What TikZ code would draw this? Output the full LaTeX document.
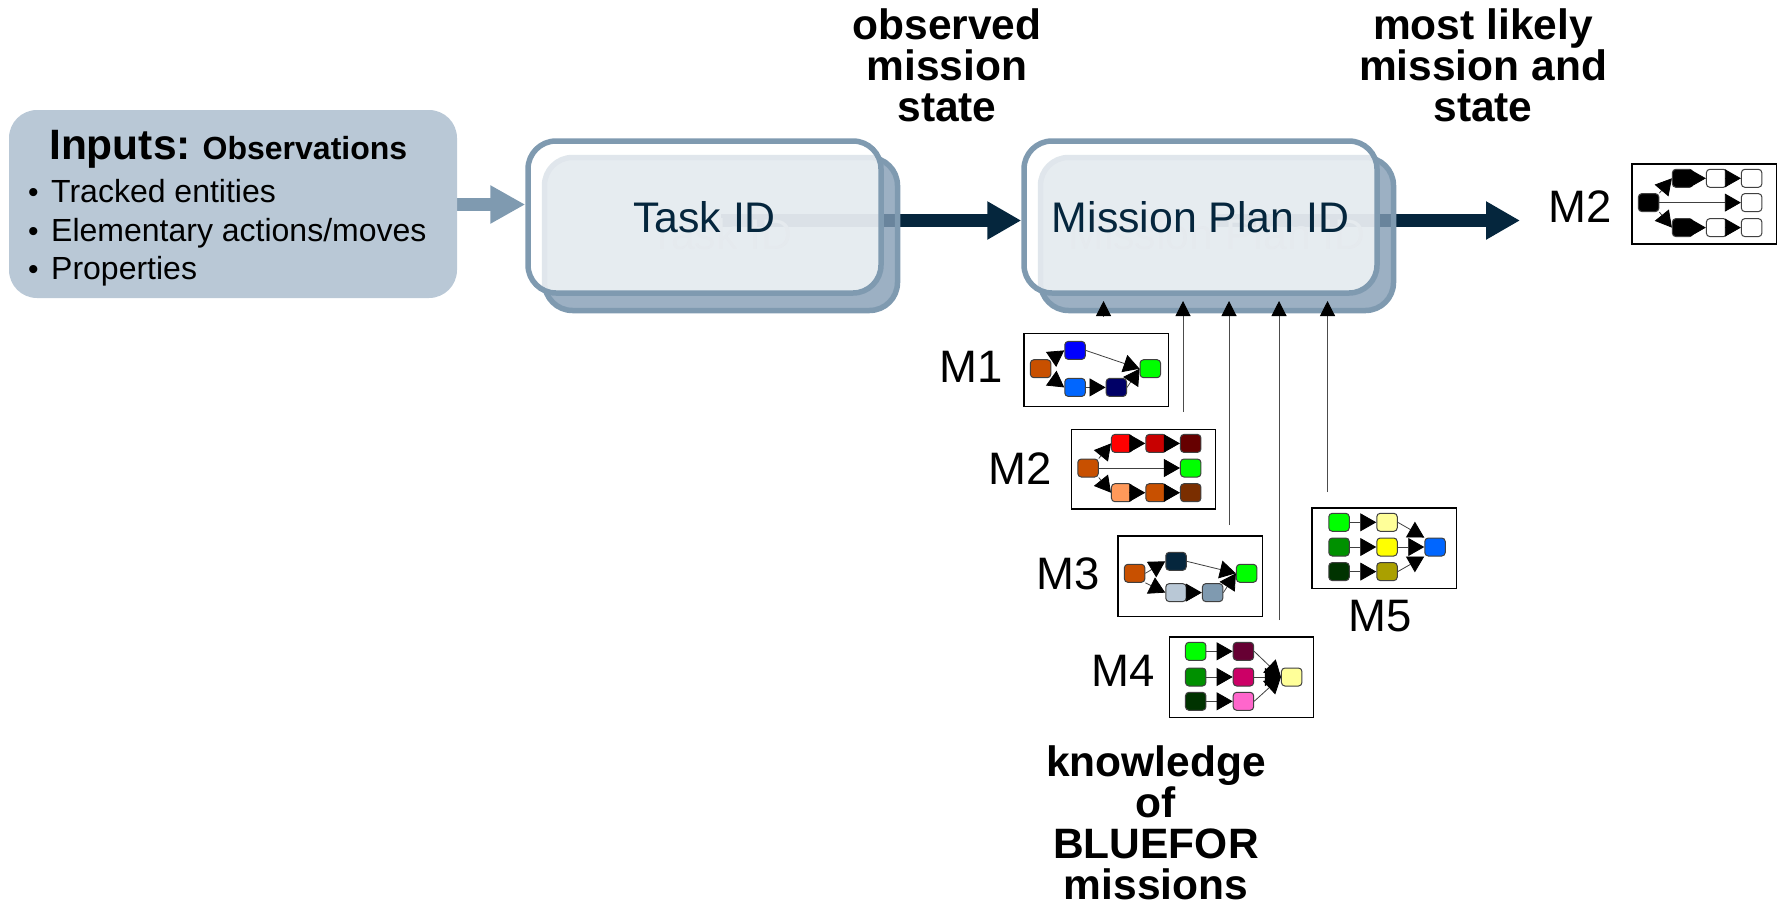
\documentclass[tikz,border=0pt]{standalone}
\usepackage{fontspec}
\setmainfont{Liberation Sans}
\usetikzlibrary{arrows.meta,backgrounds}
\definecolor{dk}{HTML}{05263D}
\definecolor{st}{HTML}{7F9AB0}
\tikzset{
  inbox/.style={rectangle,rounded corners=28pt,fill=B9,minimum width=448pt,minimum height=188pt,inner sep=0pt},
  frontbox/.style={rectangle,rounded corners=28pt,draw=st,line width=5.5pt,fill=white,fill opacity=.76,text opacity=1,text=dk,minimum width=353pt,minimum height=152pt,font=\fontsize{42.8}{44}\selectfont},
  backbox/.style={rectangle,rounded corners=28pt,draw=st,line width=5.5pt,fill=BK,fill opacity=.8,text opacity=1,minimum width=353pt,minimum height=153pt,text=SH,font=\fontsize{42.8}{44}\selectfont},
  head/.style={align=center,font=\fontsize{42.5}{41}\bfseries\selectfont,inner sep=0pt},
  mlabel/.style={font=\fontsize{45.5}{47}\selectfont,inner sep=0pt},
  thumb/.style={rectangle,draw=black,line width=1.3pt,fill=white,anchor=north west,inner sep=0pt,minimum width=144.4pt},
  nd/.style={rectangle,rounded corners=3.5pt,draw=black!75,line width=1pt,minimum width=20.5pt,minimum height=18pt,inner sep=0pt},
  fl/.style={draw=black!75,line width=.8pt,-{Triangle[length=16pt,width=18pt,color=black]}},
  up/.style={draw=black!70,line width=1pt,-{Triangle[length=15pt,width=15pt,color=black]}},
  fatdark/.style={draw=dk,line width=13pt,-{Triangle[length=34pt,width=36pt,color=dk]}},
  fatst/.style={draw=st,line width=13pt,-{Triangle[length=35pt,width=36pt,color=st]}},
}
\definecolor{B9}{HTML}{B9C8D6}
\definecolor{BK}{HTML}{839CB4}
\definecolor{SH}{HTML}{93A8BA}
\newcommand{\bulletmark}{\makebox[25pt][l]{\hspace{2pt}\fontsize{30}{30}\selectfont •}}
\begin{document}
\begin{tikzpicture}[x=1pt,y=-1pt]
\useasboundingbox (0,0) rectangle (1782,903);
% inputs
\node[inbox] (inputs) at (233,204) {};
\node[anchor=north west,inner sep=0pt,align=left,font=\fontsize{32}{38.6}\selectfont] (inputstext) at (26,130.5)
  {\hspace*{23pt}{\fontsize{42.5}{42}\bfseries\selectfont Inputs:} {\fontsize{32}{38.6}\bfseries\selectfont Observations}\\[4pt]
   \bulletmark Tracked entities\\
   \bulletmark Elementary actions/moves\\
   \bulletmark Properties};
% ID boxes
\node[backbox] (taskback) at (721,234) {Task ID};
\node[frontbox] (task) at (704.5,217) {Task ID};
\node[backbox] (missionback) at (1217,234) {Mission Plan ID};
\node[frontbox] (mission) at (1200.5,217) {Mission Plan ID};
\coordinate (a0) at (457,204.5);
\coordinate (a1) at (721,220.5);
\coordinate (a2) at (1217,220.5);
\coordinate (a3) at (1520,220.5);
\begin{scope}[on background layer]
\draw[fatst] (a0) -- (task.west |- a0);
\draw[fatdark] (a1) -- (mission.west |- a1);
\draw[fatdark] (a2) -- (a3);
\end{scope}
% headings
\node[head] (h1) at (947,65) {observed\\mission\\state};
\node[head] (h2) at (1483,65) {most likely\\mission and\\state};
\node[head] (h3) at (1156,823) {knowledge\\of\\BLUEFOR\\missions};
% labels
\node[mlabel] (lm1) at (971,367) {M1};
\node[mlabel] (lm2) at (1020.5,469) {M2};
\node[mlabel] (lm3) at (1068.5,574) {M3};
\node[mlabel] (lm4) at (1123,671) {M4};
\node[mlabel] (lm5) at (1380,616) {M5};
\node[mlabel] (lm6) at (1580,207) {M2};
% M1
\begin{scope}[shift={(1023.3,332.7)}]
\node[thumb,minimum height=73.3pt] (m1) at (0,0) {};
\node[nd,fill={rgb,255:red,200;green,80;blue,0}] (m1a) at (17.3,36) {};
\node[nd,fill={rgb,255:red,0;green,0;blue,255}] (m1b) at (51.7,17.7) {};
\node[nd,fill={rgb,255:red,0;green,102;blue,255}] (m1c) at (51.7,54.7) {};
\node[nd,fill={rgb,255:red,0;green,0;blue,102}] (m1d) at (93,54.7) {};
\node[nd,fill={rgb,255:red,0;green,255;blue,0}] (m1e) at (127,36) {};
\draw[fl] (m1a.north east) -- (m1b.west);
\draw[fl] (m1a.south east) -- (m1c.west);
\draw[fl] (m1c) -- (m1d);
\draw[fl] (m1b.east) -- (m1e.west);
\draw[fl] (m1d.east) -- (m1e.west);
\end{scope}
% M2
\begin{scope}[shift={(1070.7,428.7)}]
\node[thumb,minimum height=79.7pt] (m2) at (0,0) {};
\node[nd,fill={rgb,255:red,200;green,80;blue,0}] (m2a) at (17.3,39.3) {};
\node[nd,fill={rgb,255:red,255;green,0;blue,0}] (m2b) at (51,14.7) {};
\node[nd,fill={rgb,255:red,200;green,0;blue,0}] (m2c) at (85.3,14.7) {};
\node[nd,fill={rgb,255:red,102;green,0;blue,0}] (m2d) at (120,14.7) {};
\node[nd,fill={rgb,255:red,0;green,255;blue,0}] (m2e) at (120,39.3) {};
\node[nd,fill={rgb,255:red,255;green,153;blue,90}] (m2f) at (51,64) {};
\node[nd,fill={rgb,255:red,200;green,80;blue,0}] (m2g) at (85.3,64) {};
\node[nd,fill={rgb,255:red,122;green,46;blue,0}] (m2h) at (120,64) {};
\draw[fl] (m2a.north east) -- (m2b.west);
\draw[fl] (m2b) -- (m2c);
\draw[fl] (m2c) -- (m2d);
\draw[fl] (m2a) -- (m2e);
\draw[fl] (m2a.south east) -- (m2f.west);
\draw[fl] (m2f) -- (m2g);
\draw[fl] (m2g) -- (m2h);
\end{scope}
% M3
\begin{scope}[shift={(1117.3,535.3)}]
\node[thumb,minimum height=80.4pt] (m3) at (0,0) {};
\node[nd,fill={rgb,255:red,200;green,80;blue,0}] (m3a) at (17.3,38) {};
\node[nd,fill=dk] (m3b) at (58.7,26) {};
\node[nd,fill=B9] (m3c) at (58.7,57.3) {};
\node[nd,fill=st] (m3d) at (95.3,57.3) {};
\node[nd,fill={rgb,255:red,0;green,255;blue,0}] (m3e) at (129.3,38) {};
\draw[fl] (m3a.east) -- (m3b.west);
\draw[fl] (m3a.south east) -- (m3c.west);
\draw[fl] (m3c) -- (m3d);
\draw[fl] (m3b.east) -- (m3e.west);
\draw[fl] (m3d.east) -- (m3e.west);
\end{scope}
% M4
\begin{scope}[shift={(1168.7,636.3)}]
\node[thumb,minimum height=80.4pt] (m4) at (0,0) {};
\node[nd,fill={rgb,255:red,0;green,255;blue,0}] (m4a) at (27,15) {};
\node[nd,fill={rgb,255:red,0;green,144;blue,0}] (m4b) at (27,40.7) {};
\node[nd,fill={rgb,255:red,0;green,51;blue,0}] (m4c) at (27,65) {};
\node[nd,fill={rgb,255:red,102;green,0;blue,51}] (m4d) at (74.7,15) {};
\node[nd,fill={rgb,255:red,204;green,0;blue,102}] (m4e) at (74.7,40.7) {};
\node[nd,fill={rgb,255:red,255;green,102;blue,204}] (m4f) at (74.7,65) {};
\node[nd,fill={rgb,255:red,255;green,255;blue,153}] (m4g) at (123,40.7) {};
\draw[fl] (m4a) -- (m4d);
\draw[fl] (m4b) -- (m4e);
\draw[fl] (m4c) -- (m4f);
\draw[fl] (m4d.east) -- (m4g.west);
\draw[fl] (m4e.east) -- (m4g.west);
\draw[fl] (m4f.east) -- (m4g.west);
\end{scope}
% M5
\begin{scope}[shift={(1311.3,507.3)}]
\node[thumb,minimum height=80.4pt] (m5) at (0,0) {};
\node[nd,fill={rgb,255:red,0;green,255;blue,0}] (m5a) at (27.7,15) {};
\node[nd,fill={rgb,255:red,0;green,144;blue,0}] (m5b) at (27.7,39.7) {};
\node[nd,fill={rgb,255:red,0;green,51;blue,0}] (m5c) at (27.7,64.3) {};
\node[nd,fill={rgb,255:red,255;green,255;blue,153}] (m5d) at (75.7,15) {};
\node[nd,fill={rgb,255:red,255;green,255;blue,0}] (m5e) at (75.7,39.7) {};
\node[nd,fill={rgb,255:red,170;green,160;blue,0}] (m5f) at (75.7,64.3) {};
\node[nd,fill={rgb,255:red,0;green,102;blue,255}] (m5g) at (123.7,39.7) {};
\draw[fl] (m5a) -- (m5d);
\draw[fl] (m5b) -- (m5e);
\draw[fl] (m5c) -- (m5f);
\draw[fl] (m5d.east) -- (m5g.north west);
\draw[fl] (m5e) -- (m5g);
\draw[fl] (m5f.east) -- (m5g.south west);
\end{scope}
% top-right M2
\begin{scope}[shift={(1631.3,163.3)}]
\node[thumb,minimum height=80pt] (m6) at (0,0) {};
\node[nd,fill=black] (m6a) at (17.3,39.3) {};
\node[nd,fill=black] (m6b) at (51.3,15) {};
\node[nd,fill=white] (m6c) at (85.3,15) {};
\node[nd,fill=white] (m6d) at (120.3,15) {};
\node[nd,fill=white] (m6e) at (120.3,39.3) {};
\node[nd,fill=black] (m6f) at (51.3,64.3) {};
\node[nd,fill=white] (m6g) at (85.3,64.3) {};
\node[nd,fill=white] (m6h) at (120.3,64.3) {};
\draw[fl] (m6a.north east) -- (m6b.west);
\draw[fl] (m6b) -- (m6c);
\draw[fl] (m6c) -- (m6d);
\draw[fl] (m6a) -- (m6e);
\draw[fl] (m6a.south east) -- (m6f.west);
\draw[fl] (m6f) -- (m6g);
\draw[fl] (m6g) -- (m6h);
\end{scope}
% feeds into Mission Plan ID
\coordinate (u1a) at (1103.5,316);
\coordinate (u1b) at (1103.5,301);
\coordinate (u2a) at (1183,412);
\coordinate (u2b) at (1183,301);
\coordinate (u3a) at (1229,525);
\coordinate (u3b) at (1229,301);
\coordinate (u4a) at (1279,620);
\coordinate (u4b) at (1279,301);
\coordinate (u5a) at (1327.5,492);
\coordinate (u5b) at (1327.5,301);
\draw[up] (u1a) -- (u1b);
\draw[up] (u2a) -- (u2b);
\draw[up] (u3a) -- (u3b);
\draw[up] (u4a) -- (u4b);
\draw[up] (u5a) -- (u5b);
\end{tikzpicture}
\end{document}
